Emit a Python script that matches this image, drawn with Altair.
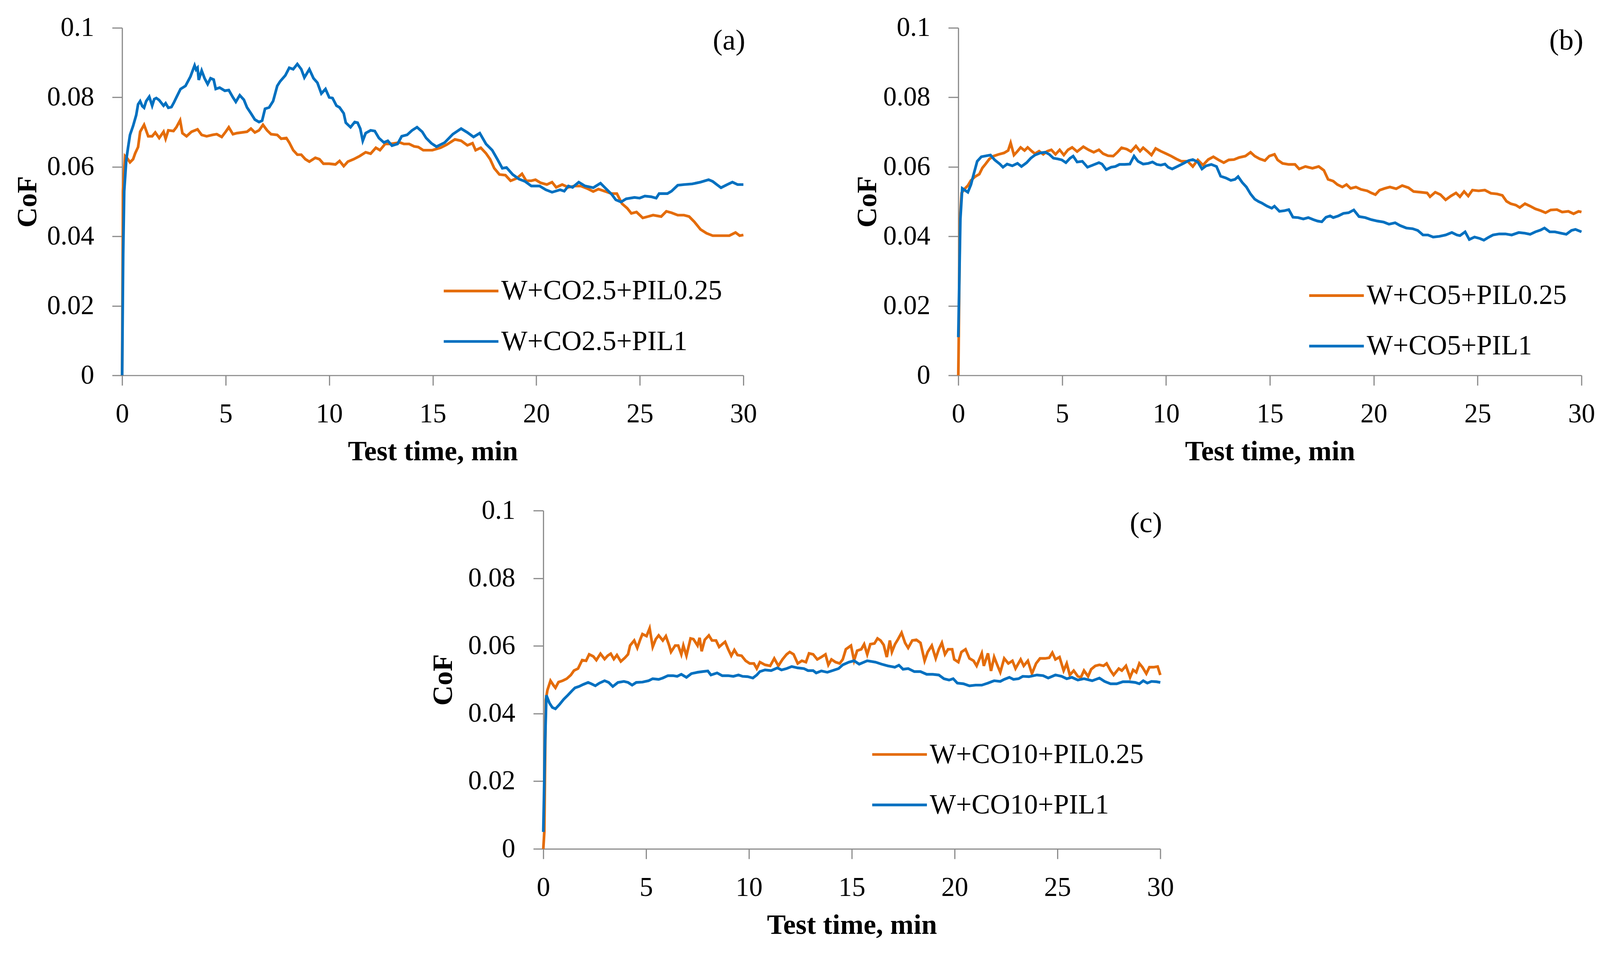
import altair as alt
import pandas as pd

ORANGE = "#E46C0A"
BLUE = "#0070C0"
FONT = "Liberation Serif"

X_TICKS = [0, 5, 10, 15, 20, 25, 30]
Y_TICKS = [0, 0.02, 0.04, 0.06, 0.08, 0.1]

# ---------------- Panel (a) ----------------
A_NAMES = ["W+CO2.5+PIL0.25", "W+CO2.5+PIL1"]
A_T_O = [0.0, 0.04, 0.14, 0.24, 0.38, 0.53, 0.63, 0.77, 0.87, 1.06, 1.26, 1.45, 1.6, 1.79, 2.0, 2.1,
         2.23, 2.48, 2.62, 2.8, 2.91, 3.11, 3.35, 3.64, 3.84, 4.08, 4.37, 4.57, 4.81, 5.0, 5.15, 5.35,
         5.54, 5.78, 6.03, 6.22, 6.41, 6.61, 6.8, 7.0, 7.19, 7.49, 7.68, 7.93, 8.07, 8.26, 8.46, 8.65,
         8.85, 9.04, 9.33, 9.53, 9.72, 10.0, 10.3, 10.5, 10.7, 10.9, 11.18, 11.47, 11.76, 12.0, 12.25,
         12.45, 12.7, 12.93, 13.17, 13.42, 13.6, 13.86, 14.1, 14.3, 14.54, 14.73, 14.98, 15.38, 15.68,
         16.07, 16.37, 16.67, 16.92, 17.07, 17.32, 17.57, 17.77, 17.97, 18.22, 18.51, 18.76, 19.06,
         19.31, 19.51, 19.76, 19.96, 20.21, 20.51, 20.76, 20.96, 21.25, 21.55, 21.85, 22.15, 22.45,
         22.75, 23.0, 23.35, 23.64, 23.89, 24.14, 24.39, 24.59, 24.84, 25.14, 25.39, 25.64, 26.03,
         26.28, 26.53, 26.83, 27.13, 27.38, 27.63, 27.93, 28.22, 28.52, 28.92, 29.32, 29.62, 29.82, 30.0]
A_V_O = [0.0, 0.053, 0.0631, 0.0625, 0.0613, 0.0622, 0.0639, 0.0657, 0.0701, 0.0721, 0.0688, 0.0688,
         0.0699, 0.0683, 0.0701, 0.0681, 0.0705, 0.0703, 0.0714, 0.0734, 0.0697, 0.0688, 0.0701, 0.0708,
         0.0692, 0.0688, 0.0692, 0.0694, 0.0686, 0.0701, 0.0714, 0.0694, 0.0697, 0.0699, 0.0701, 0.0710,
         0.0699, 0.0705, 0.0721, 0.0705, 0.0694, 0.0692, 0.0681, 0.0683, 0.0670, 0.0648, 0.0635, 0.0635,
         0.0622, 0.0615, 0.0626, 0.0622, 0.0609, 0.0609, 0.0607, 0.0617, 0.0602, 0.0615, 0.0622, 0.0631,
         0.0642, 0.0638, 0.0655, 0.0648, 0.0666, 0.0666, 0.0668, 0.0670, 0.0666, 0.0666, 0.0659, 0.0657,
         0.0648, 0.0648, 0.0648, 0.0655, 0.0664, 0.0679, 0.0675, 0.0662, 0.0668, 0.0648, 0.0655, 0.0639,
         0.0622, 0.0596, 0.0578, 0.0576, 0.0560, 0.0567, 0.0580, 0.0560, 0.0560, 0.0563, 0.0554, 0.0549,
         0.0556, 0.0541, 0.0549, 0.0541, 0.0545, 0.0545, 0.0538, 0.0529, 0.0536, 0.0529, 0.0523, 0.0523,
         0.0494, 0.0481, 0.0466, 0.0470, 0.0453, 0.0457, 0.0461, 0.0457, 0.0472, 0.0468, 0.0461, 0.0461,
         0.0457, 0.0442, 0.0420, 0.0409, 0.0402, 0.0402, 0.0402, 0.0411, 0.0402, 0.0404]
A_T_B = [0.0, 0.05, 0.1, 0.2, 0.29, 0.38, 0.53, 0.68, 0.77, 0.87, 0.97, 1.06, 1.16, 1.31, 1.45, 1.55,
         1.65, 1.79, 2.0, 2.1, 2.23, 2.38, 2.5, 2.62, 2.82, 3.06, 3.3, 3.5, 3.57, 3.64, 3.7, 3.84, 3.98,
         4.13, 4.27, 4.42, 4.52, 4.71, 4.96, 5.15, 5.35, 5.49, 5.68, 5.88, 6.03, 6.22, 6.41, 6.61, 6.76,
         6.9, 7.1, 7.29, 7.49, 7.63, 7.88, 8.07, 8.26, 8.46, 8.65, 8.8, 9.04, 9.24, 9.43, 9.62, 9.82,
         10.0, 10.16, 10.35, 10.5, 10.7, 10.8, 11.03, 11.23, 11.37, 11.5, 11.62, 11.76, 12.0, 12.2, 12.4,
         12.64, 12.83, 13.03, 13.3, 13.5, 13.76, 14.0, 14.24, 14.49, 14.68, 14.93, 15.18, 15.58, 15.97,
         16.37, 16.67, 16.97, 17.27, 17.57, 17.87, 18.12, 18.36, 18.56, 18.86, 19.16, 19.46, 19.76,
         20.16, 20.46, 20.76, 21.15, 21.35, 21.55, 21.75, 22.05, 22.35, 22.75, 23.1, 23.35, 23.64, 23.84,
         24.09, 24.34, 24.74, 24.99, 25.24, 25.54, 25.79, 25.93, 26.33, 26.53, 26.83, 27.13, 27.53,
         27.93, 28.32, 28.52, 28.72, 28.92, 29.22, 29.47, 29.72, 30.0]
A_V_B = [0.0, 0.035, 0.053, 0.062, 0.0657, 0.0692, 0.0718, 0.0749, 0.0780, 0.0789, 0.0775, 0.0770,
         0.0789, 0.0802, 0.0776, 0.0795, 0.0798, 0.0792, 0.0776, 0.0783, 0.0770, 0.0772, 0.0785, 0.0800,
         0.0824, 0.0833, 0.0860, 0.0892, 0.0880, 0.0885, 0.0850, 0.0877, 0.0855, 0.0838, 0.0855, 0.0851,
         0.0824, 0.0828, 0.0819, 0.0821, 0.0800, 0.0787, 0.0806, 0.0793, 0.0771, 0.0754, 0.0736, 0.0729,
         0.0733, 0.0767, 0.0771, 0.0789, 0.0833, 0.0846, 0.0863, 0.0885, 0.0881, 0.0896, 0.0881, 0.0857,
         0.0881, 0.0855, 0.0842, 0.0811, 0.0824, 0.0800, 0.0798, 0.0776, 0.0771, 0.0754, 0.0727, 0.0714,
         0.0729, 0.0727, 0.0710, 0.0675, 0.0697, 0.0705, 0.0703, 0.0683, 0.0670, 0.0675, 0.0661, 0.0666,
         0.0688, 0.0692, 0.0705, 0.0714, 0.0701, 0.0683, 0.0668, 0.0658, 0.0670, 0.0694, 0.0710, 0.0699,
         0.0686, 0.0697, 0.0666, 0.0648, 0.0622, 0.0596, 0.0598, 0.0578, 0.0565, 0.0558, 0.0545, 0.0545,
         0.0534, 0.0527, 0.0534, 0.0530, 0.0545, 0.0541, 0.0556, 0.0545, 0.0540, 0.0553, 0.0538, 0.0521,
         0.0505, 0.0499, 0.0508, 0.0512, 0.0510, 0.0516, 0.0514, 0.0510, 0.0523, 0.0523, 0.0530, 0.0547,
         0.0549, 0.0551, 0.0556, 0.0563, 0.0558, 0.0549, 0.0540, 0.0549, 0.0556, 0.0549, 0.0549]

# ---------------- Panel (b) ----------------
B_NAMES = ["W+CO5+PIL0.25", "W+CO5+PIL1"]
B_T_O = [0.0, 0.02, 0.08, 0.16, 0.31, 0.46, 0.61, 0.81, 1.01, 1.16, 1.31, 1.5, 1.7, 1.95, 2.2, 2.4,
         2.52, 2.68, 2.85, 3.0, 3.19, 3.34, 3.54, 3.69, 3.89, 4.09, 4.28, 4.48, 4.68, 4.88, 5.08, 5.28,
         5.48, 5.72, 6.02, 6.27, 6.52, 6.77, 6.97, 7.21, 7.46, 7.66, 7.86, 8.11, 8.31, 8.55, 8.75, 8.9,
         9.1, 9.3, 9.5, 9.75, 10.0, 10.25, 10.49, 10.74, 11.04, 11.29, 11.53, 11.78, 12.03, 12.28, 12.53,
         12.78, 13.02, 13.27, 13.52, 13.82, 14.07, 14.27, 14.51, 14.76, 14.97, 15.22, 15.37, 15.61,
         15.91, 16.21, 16.41, 16.71, 17.05, 17.35, 17.6, 17.8, 18.05, 18.25, 18.49, 18.69, 18.89, 19.14,
         19.39, 19.69, 19.88, 20.08, 20.28, 20.53, 20.78, 21.08, 21.37, 21.67, 21.92, 22.27, 22.57,
         22.71, 22.96, 23.21, 23.46, 23.71, 23.96, 24.15, 24.35, 24.55, 24.75, 25.05, 25.35, 25.64,
         25.94, 26.19, 26.39, 26.59, 26.84, 27.03, 27.28, 27.53, 27.78, 28.03, 28.27, 28.52, 28.82,
         29.07, 29.37, 29.62, 29.86, 30.0]
B_V_O = [0.0, 0.010, 0.045, 0.0525, 0.0537, 0.0546, 0.0561, 0.0572, 0.0579, 0.0597, 0.0608, 0.0623,
         0.0631, 0.0636, 0.0640, 0.0647, 0.0669, 0.0634, 0.0645, 0.0656, 0.0647, 0.0656, 0.0645, 0.0638,
         0.0645, 0.0636, 0.0645, 0.0649, 0.0636, 0.0649, 0.0634, 0.0649, 0.0656, 0.0644, 0.0658, 0.0649,
         0.0642, 0.0649, 0.0638, 0.0632, 0.0631, 0.0642, 0.0655, 0.0651, 0.0644, 0.0660, 0.0645, 0.0655,
         0.0645, 0.0634, 0.0653, 0.0645, 0.0638, 0.0631, 0.0623, 0.0616, 0.0616, 0.0601, 0.0620, 0.0605,
         0.0621, 0.0629, 0.0620, 0.0612, 0.0620, 0.0621, 0.0627, 0.0631, 0.0642, 0.0631, 0.0623, 0.0618,
         0.0631, 0.0636, 0.0620, 0.0610, 0.0607, 0.0607, 0.0594, 0.0601, 0.0596, 0.0601, 0.0590, 0.0564,
         0.0559, 0.0549, 0.0542, 0.0549, 0.0538, 0.0542, 0.0535, 0.0531, 0.0525, 0.0520, 0.0533, 0.0538,
         0.0542, 0.0537, 0.0546, 0.0540, 0.0529, 0.0527, 0.0525, 0.0514, 0.0527, 0.0520, 0.0505, 0.0516,
         0.0525, 0.0514, 0.0529, 0.0516, 0.0533, 0.0531, 0.0533, 0.0524, 0.0522, 0.0518, 0.0501, 0.0494,
         0.0490, 0.0483, 0.0494, 0.0487, 0.0479, 0.0474, 0.0468, 0.0476, 0.0477, 0.0470, 0.0472, 0.0465,
         0.0472, 0.0470]
B_T_B = [0.0, 0.1, 0.19, 0.31, 0.46, 0.61, 0.76, 0.91, 1.11, 1.36, 1.55, 1.75, 2.0, 2.15, 2.35, 2.6,
         2.85, 3.04, 3.29, 3.49, 3.69, 3.94, 4.19, 4.38, 4.58, 4.78, 4.98, 5.18, 5.38, 5.53, 5.72, 5.97,
         6.22, 6.47, 6.77, 6.92, 7.12, 7.36, 7.56, 7.76, 8.01, 8.26, 8.46, 8.65, 8.9, 9.15, 9.35, 9.55,
         9.75, 9.95, 10.1, 10.3, 10.54, 10.84, 11.09, 11.29, 11.53, 11.73, 11.93, 12.18, 12.43, 12.63,
         12.88, 13.12, 13.32, 13.47, 13.67, 13.87, 14.07, 14.27, 14.46, 14.61, 14.86, 15.09, 15.22,
         15.46, 15.71, 15.91, 16.11, 16.36, 16.61, 16.85, 17.1, 17.3, 17.5, 17.7, 17.9, 18.05, 18.3,
         18.54, 18.79, 19.04, 19.29, 19.59, 19.88, 20.18, 20.48, 20.73, 21.03, 21.27, 21.57, 21.87,
         22.12, 22.37, 22.61, 22.86, 23.16, 23.46, 23.76, 24.0, 24.15, 24.4, 24.6, 24.85, 25.1, 25.3,
         25.49, 25.74, 26.04, 26.34, 26.64, 26.98, 27.28, 27.53, 27.78, 28.03, 28.22, 28.47, 28.72,
         29.02, 29.27, 29.52, 29.71, 30.0]
B_V_B = [0.011, 0.045, 0.0538, 0.0533, 0.0527, 0.0549, 0.0583, 0.0616, 0.0629, 0.0632, 0.0634, 0.0620,
         0.0608, 0.0599, 0.0608, 0.0603, 0.0610, 0.0601, 0.0612, 0.0625, 0.0634, 0.0640, 0.0642, 0.0636,
         0.0625, 0.0623, 0.0620, 0.0612, 0.0625, 0.0631, 0.0614, 0.0616, 0.0599, 0.0605, 0.0612, 0.0608,
         0.0592, 0.0599, 0.0601, 0.0607, 0.0607, 0.0608, 0.0631, 0.0616, 0.0608, 0.0610, 0.0614, 0.0607,
         0.0605, 0.0608, 0.0599, 0.0594, 0.0601, 0.0610, 0.0618, 0.0621, 0.0614, 0.0594, 0.0603, 0.0607,
         0.0601, 0.0573, 0.0568, 0.0561, 0.0564, 0.0572, 0.0555, 0.0542, 0.0522, 0.0507, 0.0500, 0.0496,
         0.0487, 0.0481, 0.0487, 0.0472, 0.0474, 0.0477, 0.0455, 0.0454, 0.0450, 0.0454, 0.0448, 0.0444,
         0.0442, 0.0455, 0.0459, 0.0454, 0.0459, 0.0466, 0.0468, 0.0476, 0.0457, 0.0454, 0.0448, 0.0444,
         0.0441, 0.0435, 0.0439, 0.0431, 0.0424, 0.0422, 0.0417, 0.0404, 0.0404, 0.0398, 0.0400, 0.0404,
         0.0411, 0.0404, 0.0402, 0.0413, 0.0391, 0.0398, 0.0394, 0.0389, 0.0396, 0.0404, 0.0407, 0.0407,
         0.0404, 0.0411, 0.0409, 0.0406, 0.0413, 0.0418, 0.0424, 0.0413, 0.0413, 0.0409, 0.0406, 0.0417,
         0.0420, 0.0413]

# ---------------- Panel (c) ----------------
C_NAMES = ["W+CO10+PIL0.25", "W+CO10+PIL1"]
C_T_O = [0.0, 0.05, 0.12, 0.2, 0.35, 0.49, 0.59, 0.74, 0.94, 1.14, 1.34, 1.49, 1.69, 1.89, 2.08, 2.23,
         2.43, 2.58, 2.78, 2.98, 3.13, 3.28, 3.43, 3.58, 3.77, 3.97, 4.12, 4.22, 4.42, 4.57, 4.72, 4.82,
         5.02, 5.17, 5.32, 5.47, 5.61, 5.81, 5.96, 6.11, 6.21, 6.41, 6.56, 6.71, 6.81, 6.96, 7.16, 7.3,
         7.5, 7.6, 7.7, 7.85, 8.05, 8.2, 8.4, 8.55, 8.7, 8.84, 8.99, 9.14, 9.29, 9.44, 9.64, 9.84, 10.04,
         10.24, 10.38, 10.53, 10.78, 11.03, 11.23, 11.43, 11.63, 11.83, 11.98, 12.17, 12.37, 12.57,
         12.77, 12.92, 13.12, 13.32, 13.52, 13.72, 13.86, 14.01, 14.21, 14.41, 14.56, 14.71, 14.96,
         15.11, 15.26, 15.46, 15.6, 15.75, 15.9, 16.1, 16.25, 16.4, 16.55, 16.7, 16.85, 16.95, 17.1,
         17.25, 17.42, 17.59, 17.74, 17.94, 18.14, 18.34, 18.54, 18.69, 18.89, 19.08, 19.23, 19.38,
         19.53, 19.68, 19.88, 19.98, 20.18, 20.33, 20.53, 20.72, 20.92, 21.07, 21.32, 21.42, 21.62,
         21.77, 21.92, 22.07, 22.22, 22.41, 22.61, 22.81, 22.96, 23.21, 23.36, 23.56, 23.76, 23.96,
         24.15, 24.4, 24.6, 24.75, 24.9, 25.1, 25.3, 25.45, 25.6, 25.79, 25.99, 26.14, 26.29, 26.49,
         26.64, 26.84, 27.04, 27.24, 27.39, 27.58, 27.73, 27.98, 28.13, 28.33, 28.53, 28.68, 28.83,
         28.98, 29.13, 29.32, 29.47, 29.67, 29.87, 30.0]
C_V_O = [0.0, 0.005, 0.044, 0.0469, 0.0497, 0.0484, 0.0476, 0.0493, 0.0497, 0.0503, 0.0514, 0.0527,
         0.0533, 0.0558, 0.0556, 0.0575, 0.0569, 0.0558, 0.0577, 0.0561, 0.0571, 0.0577, 0.0561, 0.0573,
         0.0554, 0.0565, 0.0575, 0.0601, 0.0616, 0.0594, 0.0620, 0.0635, 0.0629, 0.0652, 0.0597, 0.0620,
         0.0631, 0.0616, 0.0629, 0.0603, 0.0582, 0.0601, 0.0601, 0.0575, 0.0601, 0.0571, 0.0622, 0.0620,
         0.0601, 0.0624, 0.0584, 0.0618, 0.0631, 0.0616, 0.0616, 0.0597, 0.0605, 0.0612, 0.0590, 0.0571,
         0.0588, 0.0573, 0.0571, 0.0556, 0.0548, 0.0548, 0.0533, 0.0552, 0.0544, 0.0541, 0.0563, 0.0541,
         0.0560, 0.0575, 0.0582, 0.0575, 0.0548, 0.0556, 0.0552, 0.0578, 0.0575, 0.0560, 0.0567, 0.0575,
         0.0544, 0.0560, 0.0552, 0.0548, 0.0560, 0.0590, 0.0601, 0.0557, 0.0586, 0.0590, 0.0605, 0.0575,
         0.0605, 0.0607, 0.0622, 0.0616, 0.0603, 0.0567, 0.0616, 0.0582, 0.0605, 0.0620, 0.0639, 0.0609,
         0.0594, 0.0616, 0.0618, 0.0609, 0.0556, 0.0582, 0.0601, 0.0563, 0.0590, 0.0609, 0.0575, 0.0590,
         0.0590, 0.0560, 0.0552, 0.0582, 0.0590, 0.0563, 0.0556, 0.0541, 0.0578, 0.0541, 0.0578, 0.0526,
         0.0567, 0.0544, 0.0522, 0.0563, 0.0548, 0.0556, 0.0533, 0.0560, 0.0541, 0.0556, 0.0518, 0.0548,
         0.0563, 0.0563, 0.0565, 0.0580, 0.0560, 0.0567, 0.0527, 0.0548, 0.0514, 0.0527, 0.0510, 0.0507,
         0.0527, 0.0510, 0.0531, 0.0541, 0.0544, 0.0541, 0.0548, 0.0527, 0.0514, 0.0533, 0.0527, 0.0541,
         0.0507, 0.0529, 0.0522, 0.0548, 0.0537, 0.0518, 0.0537, 0.0537, 0.0539, 0.0514]
C_T_B = [0.0, 0.08, 0.15, 0.3, 0.44, 0.59, 0.79, 0.99, 1.19, 1.39, 1.54, 1.74, 1.94, 2.18, 2.33, 2.53,
         2.73, 2.98, 3.18, 3.38, 3.63, 3.92, 4.12, 4.32, 4.52, 4.82, 5.12, 5.32, 5.61, 5.81, 6.06, 6.31,
         6.51, 6.71, 6.96, 7.2, 7.5, 7.75, 8.0, 8.15, 8.45, 8.7, 8.99, 9.24, 9.49, 9.69, 9.94, 10.19,
         10.38, 10.53, 10.78, 11.08, 11.38, 11.58, 11.83, 12.08, 12.37, 12.67, 12.87, 13.12, 13.27,
         13.52, 13.81, 14.06, 14.36, 14.56, 14.86, 15.11, 15.36, 15.75, 16.15, 16.45, 16.75, 17.09,
         17.29, 17.49, 17.74, 18.04, 18.34, 18.64, 18.93, 19.23, 19.48, 19.73, 19.93, 20.13, 20.43,
         20.72, 21.02, 21.32, 21.62, 21.92, 22.22, 22.41, 22.66, 22.86, 23.11, 23.31, 23.61, 24.0, 24.3,
         24.55, 24.9, 25.2, 25.45, 25.7, 25.99, 26.29, 26.69, 27.04, 27.29, 27.58, 27.88, 28.18, 28.48,
         28.78, 28.98, 29.17, 29.37, 29.57, 29.82, 30.0]
C_V_B = [0.005, 0.030, 0.0454, 0.0431, 0.0418, 0.0414, 0.0427, 0.0442, 0.0454, 0.0467, 0.0476, 0.0480,
         0.0486, 0.0492, 0.0488, 0.0482, 0.0490, 0.0497, 0.0492, 0.0480, 0.0492, 0.0495, 0.0492, 0.0484,
         0.0492, 0.0493, 0.0497, 0.0503, 0.0501, 0.0505, 0.0512, 0.0512, 0.0510, 0.0516, 0.0507, 0.0518,
         0.0522, 0.0524, 0.0526, 0.0514, 0.0520, 0.0512, 0.0512, 0.0510, 0.0514, 0.0510, 0.0509, 0.0505,
         0.0514, 0.0524, 0.0529, 0.0527, 0.0535, 0.0529, 0.0533, 0.0539, 0.0535, 0.0533, 0.0527, 0.0527,
         0.0520, 0.0526, 0.0522, 0.0527, 0.0533, 0.0544, 0.0552, 0.0556, 0.0546, 0.0556, 0.0552, 0.0546,
         0.0541, 0.0537, 0.0543, 0.0531, 0.0533, 0.0524, 0.0524, 0.0516, 0.0516, 0.0514, 0.0503, 0.0499,
         0.0503, 0.0490, 0.0488, 0.0482, 0.0484, 0.0484, 0.0490, 0.0497, 0.0495, 0.0501, 0.0507, 0.0501,
         0.0503, 0.0510, 0.0509, 0.0514, 0.0512, 0.0505, 0.0514, 0.0510, 0.0503, 0.0507, 0.0499, 0.0503,
         0.0497, 0.0505, 0.0495, 0.0488, 0.0488, 0.0494, 0.0494, 0.0492, 0.0488, 0.0497, 0.0490, 0.0495,
         0.0494, 0.0492]

LINE_W = 7


def panel(t_o, v_o, t_b, v_b, names, tag, width, height, title_x, leg_x, leg_y):
    d_o = pd.DataFrame({"t": t_o, "cof": v_o, "series": names[0]})
    d_b = pd.DataFrame({"t": t_b, "cof": v_b, "series": names[1]})
    x = alt.X("t:Q", scale=alt.Scale(domain=[0, 30], nice=False),
              axis=alt.Axis(values=X_TICKS, format="d", title="Test time, min",
                            titleX=width / 2, titleY=162, titleBaseline="top",
                            titleAlign="center"))
    y = alt.Y("cof:Q", scale=alt.Scale(domain=[0, 0.1], nice=False),
              axis=alt.Axis(values=Y_TICKS, format="~g", title="CoF",
                            titleX=title_x, titleY=height / 2, titleAngle=270,
                            titleBaseline="bottom", titleAlign="center"))
    color = alt.Color("series:N",
                      scale=alt.Scale(domain=names, range=[ORANGE, BLUE]),
                      legend=alt.Legend(orient="none", legendX=leg_x, legendY=leg_y,
                                        title=None, symbolType="stroke",
                                        symbolSize=142 * 142, symbolStrokeWidth=LINE_W,
                                        clipHeight=131, rowPadding=0, padding=0,
                                        labelFont=FONT, labelFontSize=72,
                                        labelColor="black", labelOffset=4,
                                        labelLimit=2000))
    line_o = alt.Chart(d_o).mark_line(strokeWidth=LINE_W).encode(x=x, y=y, color=color)
    line_b = alt.Chart(d_b).mark_line(strokeWidth=LINE_W).encode(x=x, y=y, color=color)
    tag_df = pd.DataFrame({"label": [tag]})
    tag_text = alt.Chart(tag_df).mark_text(
        font=FONT, fontSize=76, color="black", align="right", baseline="top", dx=5, dy=-4
    ).encode(x=alt.datum(30), y=alt.datum(0.1), text="label:N")
    return alt.layer(line_o, line_b, tag_text).properties(width=width, height=height)


pa = panel(A_T_O, A_V_O, A_T_B, A_V_B, A_NAMES, "(a)", 1613, 902, -208, 831.5, 617.5)
pb = panel(B_T_O, B_V_O, B_T_B, B_V_B, B_NAMES, "(b)", 1618, 902, -199, 907.5, 629.5)
pc = panel(C_T_O, C_V_O, C_T_B, C_V_B, C_NAMES, "(c)", 1602, 878, -223, 850.5, 567.5)

top = alt.hconcat(pa, pb, spacing=251).resolve_scale(color="independent")
chart = alt.vconcat(top, pc, spacing=81, center=True).resolve_scale(color="independent")

chart = chart.properties(
    padding={"left": 28, "top": 12, "right": 5, "bottom": 5},
    background="white",
).configure_view(strokeWidth=0).configure_axis(
    grid=False,
    labelFont=FONT, labelFontSize=70, labelColor="black",
    titleFont=FONT, titleFontSize=73, titleFontWeight="bold", titleColor="black",
    domainColor="#898989", domainWidth=3,
    tickColor="#898989", tickWidth=3, tickSize=26,
    labelFlush=False, labelOverlap=False,
).configure_axisX(labelPadding=41).configure_axisY(labelPadding=47)

chart.save("out.html", embed_options={"renderer": "svg", "actions": False})
